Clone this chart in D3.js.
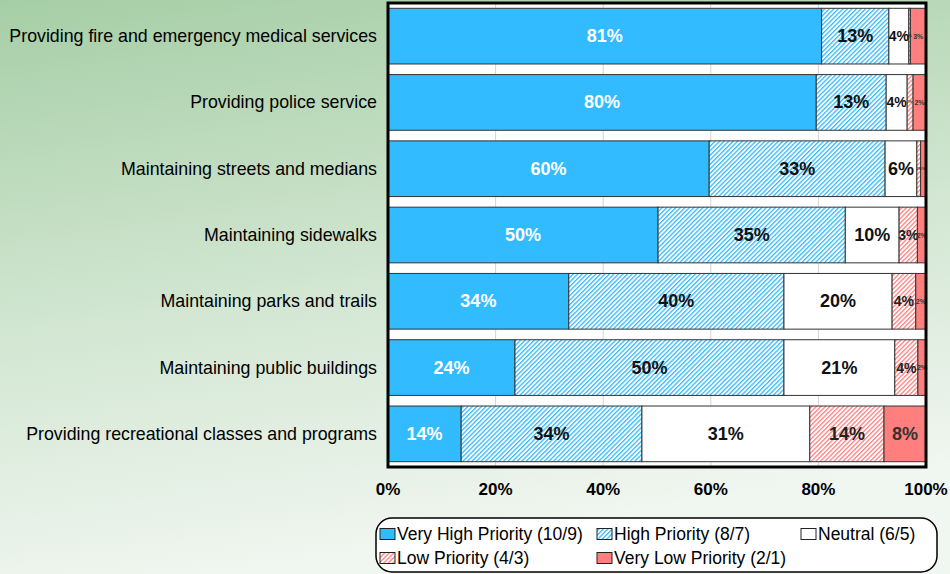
<!DOCTYPE html>
<html><head><meta charset="utf-8">
<script src="https://cdn.jsdelivr.net/npm/d3@7"></script>
<style>body{margin:0;padding:0;overflow:hidden}svg{display:block}</style>
</head><body>
<script>
const categories = [
  "Providing fire and emergency medical services",
  "Providing police service",
  "Maintaining streets and medians",
  "Maintaining sidewalks",
  "Maintaining parks and trails",
  "Maintaining public buildings",
  "Providing recreational classes and programs"
];
const seriesNames = ["Very High Priority (10/9)","High Priority (8/7)","Neutral (6/5)","Low Priority (4/3)","Very Low Priority (2/1)"];
const veryHigh = [80.6, 79.6, 59.7, 50.2, 33.6, 23.6, 13.6];
const high     = [12.5, 13.0, 32.7, 34.8, 40.0, 50.0, 33.6];
const neutral  = [3.7, 3.9, 5.9, 10.0, 20.1, 20.6, 31.2];
const low      = [0.3, 1.1, 0.7, 3.4, 4.4, 4.3, 13.8];
const veryLow  = [2.9, 2.4, 0.9, 1.6, 1.9, 1.5, 7.8];
const tickLabels = ["0%","20%","40%","60%","80%","100%"];
const tickValues = [0,20,40,60,80,100];

const W=950,H=574;
const svg=d3.select("body").append("svg").attr("width",W).attr("height",H);
const defs=svg.append("defs");
const bg=defs.append("linearGradient").attr("id","bg").attr("x1","0").attr("y1","0").attr("x2","0.25").attr("y2","1");
bg.append("stop").attr("offset","0").attr("stop-color","#a6cea6");
bg.append("stop").attr("offset","0.55").attr("stop-color","#d2e6d2");
bg.append("stop").attr("offset","1").attr("stop-color","#f0f6f0");
svg.append("rect").attr("width",W).attr("height",H).attr("fill","url(#bg)");

function hatch(id,color){
  const p=defs.append("pattern").attr("id",id).attr("patternUnits","userSpaceOnUse")
    .attr("width",3.2).attr("height",3.2).attr("patternTransform","rotate(45)");
  p.append("rect").attr("width",3.2).attr("height",3.2).attr("fill","#fff");
  p.append("rect").attr("x",0).attr("width",1.3).attr("height",3.2).attr("fill",color);
}
hatch("hBlue","#33bbff");
hatch("hRed","#ff8080");
const fills=["#33bbff","url(#hBlue)","#ffffff","url(#hRed)","#ff7f7f"];
const textCols=["#ffffff","#111","#111","#222","#333"];

const m={l:388,r:926,t:3,b:467};
const x=d3.scaleLinear().domain([0,100]).range([m.l,m.r]);
const y=d3.scaleBand().domain(categories).range([m.t,m.b]).paddingInner(0.16).paddingOuter(0.08);

svg.append("rect").attr("x",m.l).attr("y",m.t).attr("width",m.r-m.l).attr("height",m.b-m.t).attr("fill","#fff");
svg.append("g").selectAll("line").data(tickValues.slice(1,-1)).join("line")
  .attr("x1",d=>x(d)).attr("x2",d=>x(d)).attr("y1",m.t).attr("y2",m.b)
  .attr("stroke","#d4d4d4").attr("stroke-width",1);

const rows=categories.map((c,i)=>{
  const vals=[veryHigh[i],high[i],neutral[i],low[i],veryLow[i]];
  let acc=0;
  return vals.map((v,k)=>{const s={cat:c,k,v,x0:acc,x1:acc+v};acc+=v;return s;});
});
const g=svg.append("g");
rows.forEach(r=>{
  g.selectAll(null).data(r).join("rect")
    .attr("x",d=>x(d.x0)).attr("y",d=>y(d.cat))
    .attr("width",d=>Math.max(0,x(d.x1)-x(d.x0))).attr("height",y.bandwidth())
    .attr("fill",d=>fills[d.k]).attr("stroke","#333").attr("stroke-width",1);
  g.selectAll(null).data(r).join("text")
    .attr("x",d=>(x(d.x0)+x(d.x1))/2).attr("y",d=>y(d.cat)+y.bandwidth()/2)
    .attr("text-anchor","middle").attr("dominant-baseline","central")
    .attr("font-family","Liberation Sans, Arial, sans-serif").attr("font-weight","bold")
    .attr("font-size",d=>{const w=x(d.x1)-x(d.x0);return w>30?18:(w>18?14:(w>6?7:3));})
    .attr("fill",d=>textCols[d.k])
    .text(d=>Math.round(d.v)+"%");
});

svg.append("rect").attr("x",m.l).attr("y",m.t).attr("width",m.r-m.l).attr("height",m.b-m.t)
  .attr("fill","none").attr("stroke","#000").attr("stroke-width",3);

svg.append("g").selectAll("text").data(categories).join("text")
  .attr("x",377).attr("y",d=>y(d)+y.bandwidth()/2).attr("text-anchor","end").attr("dominant-baseline","central")
  .attr("font-family","Liberation Sans, Arial, sans-serif").attr("font-size",17.8).attr("fill","#000").text(d=>d);

svg.append("g").selectAll("text").data(tickValues).join("text")
  .attr("x",d=>x(d)).attr("y",489).attr("text-anchor","middle").attr("dominant-baseline","central")
  .attr("font-family","Liberation Sans, Arial, sans-serif").attr("font-weight","bold").attr("font-size",17)
  .text((d,i)=>tickLabels[i]);

// legend
const lg=svg.append("g");
lg.append("rect").attr("x",376).attr("y",518).attr("width",561).attr("height",54).attr("rx",16)
  .attr("fill","#fff").attr("stroke","#000").attr("stroke-width",1.5);
const legPos=[[380,534],[597,534],[801,534],[380,558],[597,558]];
seriesNames.forEach((n,i)=>{
  const [lx,ly]=legPos[i];
  lg.append("rect").attr("x",lx).attr("y",ly-5.5).attr("width",15).attr("height",11)
    .attr("fill",fills[i]).attr("stroke","#222").attr("stroke-width",1);
  lg.append("text").attr("x",lx+17).attr("y",ly).attr("dominant-baseline","central")
    .attr("font-family","Liberation Sans, Arial, sans-serif").attr("font-size",17.5).text(n);
});
</script>
</body></html>
